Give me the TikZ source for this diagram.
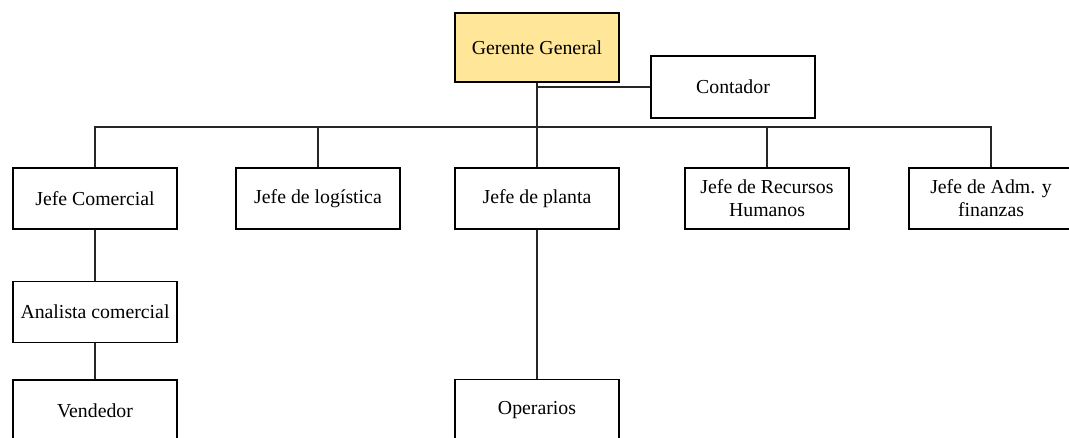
\documentclass[tikz,border=0pt]{standalone}
\usepackage{fontspec}
\setmainfont{Liberation Serif}
\usetikzlibrary{positioning}
\definecolor{gerente}{HTML}{FFE699}

\begin{document}
\begin{tikzpicture}[x=1pt,y=-1pt,
    puesto/.style={rectangle,draw,line width=1.6pt,inner sep=0pt,
        minimum width=164pt,minimum height=61pt,align=center,
        font=\fontsize{19.8}{23}\selectfont},
    linea/.style={draw,line width=1.6pt,black!85}
    ]
    \useasboundingbox (0,0) rectangle (1069,437);
    \clip (0,0) rectangle (1069,437);

    \node(gg) [puesto,fill=gerente,minimum height=69pt] at (537,47.5) {Gerente General};
    \node(ct) [puesto,minimum height=62pt] at (733,87) {Contador};

    \coordinate (bus) at (0,127);

    \node(jc) [puesto] at (95,198.5) {Jefe Comercial};
    \node(jl) [puesto] at (318,198.5) {Jefe de log\'istica};
    \node(jp) [puesto] at (537,198.5) {Jefe de planta};
    \node(jr) [puesto] at (767,198.5) {Jefe de Recursos\\Humanos};
    \node(ja) [puesto] at (991,198.5) {Jefe de Adm. y\\finanzas};

    \node(ac) [below=51pt of jc,puesto] {Analista comercial};
    \node(vd) [below=36pt of ac,puesto] {Vendedor};
    \node(op) [below=149pt of jp,puesto] {Operarios};

    \draw[linea] (gg.south) -- (gg.south |- bus);
    \draw[linea] (ct.west) -- (ct.west -| gg.south);
    \draw[linea] (jc.north) -- (jc.north |- bus) -- (ja.north |- bus) -- (ja.north);
    \foreach \n in {jl,jp,jr} {
        \draw[linea] (\n.north) -- (\n.north |- bus);
    }
    \draw[linea] (jc) -- (ac);
    \draw[linea] (ac) -- (vd);
    \draw[linea] (jp) -- (op);

\end{tikzpicture}
\end{document}
